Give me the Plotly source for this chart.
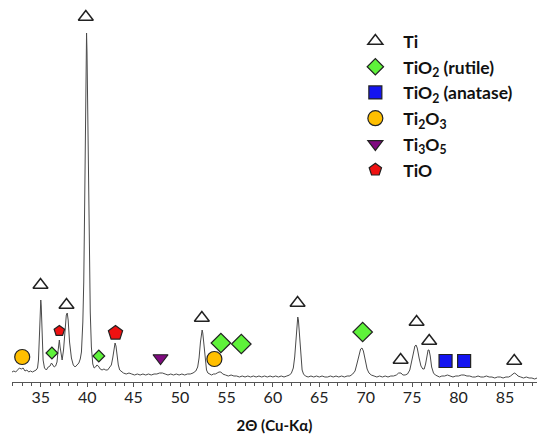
import plotly.graph_objects as go

# ---- XRD trace (2theta, intensity in arbitrary units) ----
two_theta = [
    31.9, 32.1, 32.3, 32.5, 32.7, 32.9, 33.1, 33.3, 33.5, 33.7, 33.9, 34.1, 34.3, 34.5,
    34.65, 34.75, 34.85, 34.95, 35.0, 35.05, 35.15, 35.25, 35.4,
    35.6, 35.8, 36.0, 36.15, 36.3, 36.45, 36.6, 36.75, 36.85, 36.95, 37.0, 37.08, 37.2, 37.3,
    37.45, 37.6, 37.75, 37.85, 37.95, 38.1, 38.3, 38.5, 38.7,
    38.9, 39.1, 39.25, 39.38, 39.53, 39.63, 39.73, 39.78, 39.83, 39.88, 39.93, 39.98, 40.03,
    40.08, 40.13, 40.23, 40.33, 40.45, 40.6, 40.75,
    40.9, 41.05, 41.2, 41.4, 41.6, 41.8, 42.0, 42.2, 42.4, 42.6, 42.75, 42.9, 43.0, 43.1, 43.2,
    43.35, 43.5, 43.7, 43.9, 44.2, 44.5, 44.8, 45.1, 45.4, 45.7, 46.0, 46.3, 46.6, 46.9, 47.2,
    47.5, 47.8, 48.1, 48.4, 48.7, 49.0, 49.3, 49.6, 49.9, 50.2, 50.5, 50.8, 51.1, 51.4, 51.7,
    51.9, 52.05, 52.2, 52.3, 52.38, 52.45, 52.55, 52.7, 52.85, 53.0, 53.2, 53.4, 53.6, 53.8,
    54.0, 54.2, 54.4, 54.6, 54.9, 55.2, 55.5, 55.8, 56.1, 56.4, 56.7, 57.0, 57.3, 57.6, 57.9,
    58.2, 58.5, 58.8, 59.1, 59.4, 59.7, 60.0, 60.3, 60.6, 60.9, 61.2, 61.5, 61.8, 62.0, 62.2,
    62.35, 62.5, 62.6, 62.68, 62.75, 62.85, 63.0, 63.15, 63.3, 63.5, 63.8, 64.1, 64.4, 64.7,
    65.0, 65.3, 65.6, 65.9, 66.2, 66.5, 66.8, 67.1, 67.4, 67.7, 68.0, 68.3, 68.6, 68.85, 69.05,
    69.25, 69.45, 69.6, 69.75, 69.95, 70.15, 70.35, 70.6, 70.9, 71.2, 71.5, 71.8, 72.1, 72.4,
    72.7, 73.0, 73.3, 73.55, 73.8, 74.0, 74.25, 74.5, 74.75, 74.95, 75.15, 75.3, 75.42, 75.55,
    75.75, 75.95, 76.15, 76.3, 76.45, 76.6, 76.72, 76.82, 76.95, 77.1, 77.3, 77.5, 77.7, 77.95,
    78.2, 78.5, 78.8, 79.1, 79.4, 79.7, 80.0, 80.3, 80.6, 80.9, 81.2, 81.5, 81.8, 82.1, 82.4,
    82.7, 83.0, 83.3, 83.6, 83.9, 84.2, 84.5, 84.8, 85.1, 85.4, 85.6, 85.8, 86.0, 86.2, 86.4,
    86.7, 87.0, 87.3, 87.6, 87.9, 88.2, 88.45,
]
intensity = [
    10, 11, 10, 12, 14, 13, 14, 11, 12, 10, 11, 10, 11, 12,
    14, 22, 45, 78, 82, 76, 42, 22, 14,
    12, 15, 16, 19, 17, 15, 16, 20, 30, 40, 42, 35, 24, 22,
    32, 52, 67, 69, 62, 40, 24, 17, 15,
    17, 19, 23, 30, 60, 100, 180, 230, 285, 330, 349, 330, 287,
    236, 190, 124, 70, 35, 18, 14,
    15, 17, 16, 13, 12, 13, 12, 12, 14, 17, 24, 34, 39, 36, 27,
    17, 12, 10, 9, 8, 9, 8, 7, 8, 7, 8, 7, 8, 7, 8,
    8, 9, 9, 8, 7, 8, 7, 8, 7, 8, 7, 8, 8, 9, 11,
    15, 24, 40, 50, 52, 49, 38, 20, 12, 9, 8, 7, 8, 8,
    9, 10, 10, 8, 7, 6, 7, 6, 6, 5, 6, 5, 6, 5, 6,
    5, 6, 5, 6, 5, 6, 5, 6, 5, 6, 5, 6, 7, 9, 14,
    25, 45, 60, 65, 62, 48, 24, 12, 8, 6, 5, 6, 5, 6,
    5, 6, 5, 5, 6, 5, 6, 5, 6, 5, 6, 6, 8, 11, 18,
    27, 33, 34, 31, 22, 13, 9, 7, 6, 5, 6, 5, 6, 5,
    6, 6, 7, 9, 9, 7, 7, 8, 12, 20, 30, 36, 37, 34,
    24, 16, 13, 13, 18, 27, 32, 32, 26, 15, 9, 7, 6, 5,
    6, 6, 7, 6, 5, 6, 6, 7, 7, 6, 6, 5, 5, 6, 5,
    5, 6, 5, 5, 4, 5, 5, 4, 5, 5, 6, 8, 9, 8, 6,
    5, 4, 5, 4, 4, 3, 4,
]

# ---- phase markers ----
ti_x = [34.97, 37.77, 39.85, 52.35, 62.66, 73.76, 75.48, 76.84, 86.0]
ti_y = [97, 77, 365, 64, 79, 22, 60, 41, 21]

rutile_x = [36.2, 41.25, 54.4, 56.6, 69.67]
rutile_y = [29, 26, 39, 38, 50]
rutile_size = [9, 9, 15, 15, 15]

anatase_x = [78.6, 80.6]
anatase_y = [21, 21]

ti2o3_x = [33.0, 53.7]
ti2o3_y = [25, 23]

ti3o5_x = [47.9]
ti3o5_y = [24]

tio_x = [37.0, 43.05]
tio_y = [51, 49]
tio_size = [11, 15]

x_ticks = [35, 40, 45, 50, 55, 60, 65, 70, 75, 80, 85]

legend_names = ["Ti", "TiO<sub>2</sub> (rutile)", "TiO<sub>2</sub> (anatase)",
                "Ti<sub>2</sub>O<sub>3</sub>", "Ti<sub>3</sub>O<sub>5</sub>", "TiO"]
pad = "\u00a0\u00a0"

fig = go.Figure()
fig.add_trace(go.Scatter(x=two_theta, y=intensity, mode="lines",
                         line=dict(color="#4a4a4a", width=1), showlegend=False,
                         hoverinfo="skip"))

outline = dict(color="#222222", width=1.2)
fig.add_trace(go.Scatter(x=ti_x, y=ti_y, mode="markers", name=pad + legend_names[0],
                         marker=dict(symbol="triangle-up", size=13, color="white", opacity=1,
                                     line=dict(color="#222222", width=1.5)),
                         legendgroup="a"))
fig.add_trace(go.Scatter(x=rutile_x, y=rutile_y, mode="markers", name=pad + legend_names[1],
                         marker=dict(symbol="diamond", size=rutile_size, color="#5ef23a",
                                     opacity=1, line=outline),
                         legendgroup="b"))
fig.add_trace(go.Scatter(x=anatase_x, y=anatase_y, mode="markers", name=pad + legend_names[2],
                         marker=dict(symbol="square", size=13, color="#1414f0", opacity=1,
                                     line=outline),
                         legendgroup="c"))
fig.add_trace(go.Scatter(x=ti2o3_x, y=ti2o3_y, mode="markers", name=pad + legend_names[3],
                         marker=dict(symbol="circle", size=15, color="#ffbf00", opacity=1,
                                     line=outline),
                         legendgroup="d"))
fig.add_trace(go.Scatter(x=ti3o5_x, y=ti3o5_y, mode="markers", name=pad + legend_names[4],
                         marker=dict(symbol="triangle-down", size=13, color="#7f0a7f", opacity=1,
                                     line=outline),
                         legendgroup="e"))
fig.add_trace(go.Scatter(x=tio_x, y=tio_y, mode="markers", name=pad + legend_names[5],
                         marker=dict(symbol="pentagon", size=tio_size, color="#ee1111", opacity=1,
                                     line=outline),
                         legendgroup="f"))

fig.update_layout(
    width=540, height=437,
    margin=dict(l=12, r=3, t=5, b=55),
    paper_bgcolor="white", plot_bgcolor="white",
    font=dict(family="Lato", color="#111111"),
    legend=dict(x=0.654, y=0.952, xanchor="left", yanchor="top",
                font=dict(family="Lato", size=17.5, color="#111111", weight="bold"),
                traceorder="grouped", tracegroupgap=0, itemsizing="trace",
                bgcolor="rgba(0,0,0,0)"),
    xaxis=dict(range=[31.9, 88.45], tickvals=x_ticks, ticks="outside", ticklen=4,
               tickcolor="#555555", showline=True, linecolor="#555555", linewidth=1,
               showgrid=False, zeroline=False, automargin=False,
               ticklabelstandoff=-3,
               tickfont=dict(family="Lato", size=16, color="#222222"),
               minor=dict(dtick=1, ticks="outside", ticklen=3, tickcolor="#555555"),
               title=dict(text="2Θ (Cu-Kα)", font=dict(family="Lato", size=15, weight="bold",
                                                       color="#111111"), standoff=15)),
    yaxis=dict(range=[0, 377], visible=False, automargin=False),
)

fig.write_html("out.html", config={"displayModeBar": False},
               post_script="document.body.style.margin='0';")
